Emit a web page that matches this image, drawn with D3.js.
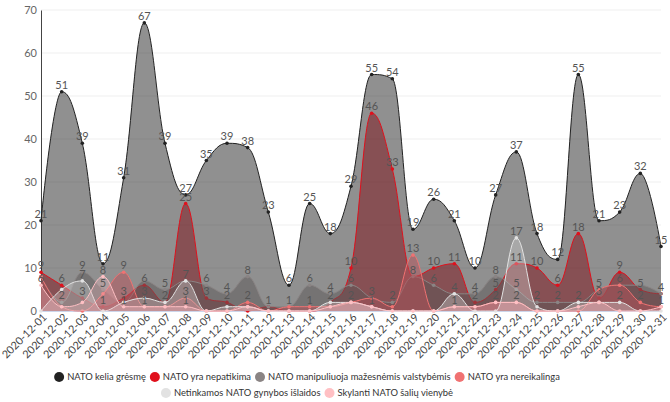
<!DOCTYPE html>
<html><head><meta charset="utf-8">
<script src="https://cdn.jsdelivr.net/npm/d3@7"></script>
<style>body{margin:0;background:#fff;} svg{display:block;font-family:Lato,"Open Sans",sans-serif;}</style>
</head><body><svg id="c" width="670" height="402"></svg>
<script>
const dates = ["2020-12-01","2020-12-02","2020-12-03","2020-12-04","2020-12-05","2020-12-06","2020-12-07","2020-12-08","2020-12-09","2020-12-10","2020-12-11","2020-12-12","2020-12-13","2020-12-14","2020-12-15","2020-12-16","2020-12-17","2020-12-18","2020-12-19","2020-12-20","2020-12-21","2020-12-22","2020-12-23","2020-12-24","2020-12-25","2020-12-26","2020-12-27","2020-12-28","2020-12-29","2020-12-30","2020-12-31"];
const yTicks = [0,10,20,30,40,50,60,70];
const seriesNames = ["NATO kelia grėsmę","NATO yra nepatikima","NATO manipuliuoja mažesnėmis valstybėmis","NATO yra nereikalinga","Netinkamos NATO gynybos išlaidos","Skylanti NATO šalių vienybė"];
const threat      = [21,51,39,11,31,67,39,27,35,39,38,23,6,25,18,29,55,54,19,26,21,10,27,37,18,12,55,21,23,32,15];
const unreliable  = [9,6,3,1,3,6,2,25,3,2,0,1,0,0,2,10,46,33,8,10,11,2,5,11,10,6,18,3,9,5,4];
const manipulates = [8,2,9,5,2,7,5,7,6,4,8,1,1,6,4,6,3,2,8,6,4,4,8,5,2,2,2,5,6,6,4];
const unnecessary = [8,1,0,4,9,1,1,3,0,0,2,0,1,1,1,2,3,1,13,0,1,1,2,2,0,0,0,5,6,2,1];
const spending    = [0,5,7,0,2,3,2,7,0,1,1,0,0,0,2,2,1,0,0,0,4,0,0,17,1,0,2,2,2,0,0];
const unity       = [6,1,2,8,1,1,1,1,0,0,1,0,0,0,1,2,1,0,0,0,1,1,2,2,0,0,1,2,0,0,1];
const seriesValues = [threat, unreliable, manipulates, unnecessary, spending, unity];

const lineColors = ["#222222","#e0101c","#8a8484","#f07272","#e2e2e2","#ffc0c4"];
const fillColors = ["#222222","#7e1018","#5a5656","#b85058","#d8d8d8","#ffc0c8"];
const fillOps    = [0.5,0.5,0.5,0.5,0.35,0.3];

// Highcharts-style spline curve
function HC(ctx){ this._context = ctx; }
HC.prototype = {
  areaStart(){ this._line = 0; },
  areaEnd(){ this._line = NaN; },
  lineStart(){ this._pts = []; },
  lineEnd(){
    const p = this._pts, n = p.length, c = this._context;
    if (n) {
      const L = [], R = [], s = 1.5, d = 2.5;
      for (let i = 0; i < n; i++) {
        const px = p[i][0], py = p[i][1];
        if (i > 0 && i < n - 1) {
          const lx = p[i-1][0], ly = p[i-1][1], nx = p[i+1][0], ny = p[i+1][1];
          const lcx = (s*px+lx)/d, rcx = (s*px+nx)/d;
          let lcy = (s*py+ly)/d, rcy = (s*py+ny)/d;
          let corr = 0;
          if (rcx !== lcx) corr = ((rcy - lcy) * (rcx - px)) / (rcx - lcx) + py - rcy;
          lcy += corr; rcy += corr;
          if (lcy > ly && lcy > py) { lcy = Math.max(ly, py); rcy = 2*py - lcy; }
          else if (lcy < ly && lcy < py) { lcy = Math.min(ly, py); rcy = 2*py - lcy; }
          if (rcy > ny && rcy > py) { rcy = Math.max(ny, py); lcy = 2*py - rcy; }
          else if (rcy < ny && rcy < py) { rcy = Math.min(ny, py); lcy = 2*py - rcy; }
          L[i] = [lcx, lcy]; R[i] = [rcx, rcy];
        } else { L[i] = [px, py]; R[i] = [px, py]; }
      }
      if (this._line) c.lineTo(p[0][0], p[0][1]); else c.moveTo(p[0][0], p[0][1]);
      for (let i = 1; i < n; i++) c.bezierCurveTo(R[i-1][0], R[i-1][1], L[i][0], L[i][1], p[i][0], p[i][1]);
    }
    if (this._line || (this._line !== 0 && n === 1)) c.closePath();
    this._line = 1 - this._line;
  },
  point(px, py){ this._pts.push([+px, +py]); }
};
const hcCurve = ctx => new HC(ctx);

const svg = d3.select("#c");
const plotLeft = 41, plotRight = 661, plotTop = 10, plotBottom = 311;
const x = d3.scalePoint().domain(dates).range([plotLeft, plotRight]);
const y = d3.scaleLinear().domain([0, 70]).range([plotBottom, plotTop]);

// gridlines
svg.append("g").selectAll("line").data(yTicks.slice(1)).join("line")
  .attr("x1", plotLeft).attr("x2", plotRight).attr("y1", d => y(d)).attr("y2", d => y(d))
  .attr("stroke", "#efefef").attr("stroke-width", 1);

// y axis
const yAxis = svg.append("g").attr("transform", `translate(${plotLeft},0)`)
  .call(d3.axisLeft(y).tickValues(yTicks).tickSize(0).tickPadding(4));
yAxis.select(".domain").attr("stroke", "#444");
yAxis.selectAll("text").attr("fill", "#666").attr("font-size", 11).attr("font-family", "Lato, sans-serif");

// x axis
const xAxis = svg.append("g").attr("transform", `translate(0,${plotBottom})`)
  .call(d3.axisBottom(x).tickSize(0).tickPadding(0));
xAxis.select(".domain").attr("stroke", "#ccd6eb");
xAxis.selectAll("text").attr("fill", "#444").attr("font-size", 10.8).attr("font-family", "Lato, sans-serif")
  .attr("text-anchor", "end").attr("dy", 0).attr("y", 0)
  .attr("transform", "translate(6,7) rotate(-45)");

const area = d3.area().x((d, i) => x(dates[i])).y0(y(0)).y1(d => y(d)).curve(hcCurve);
const line = d3.line().x((d, i) => x(dates[i])).y(d => y(d)).curve(hcCurve);

const gSeries = svg.append("g");
seriesValues.forEach((vals, s) => {
  const g = gSeries.append("g");
  g.append("path").attr("d", area(vals)).attr("fill", fillColors[s]).attr("fill-opacity", fillOps[s]);
  g.append("path").attr("d", line(vals)).attr("fill", "none").attr("stroke", lineColors[s]).attr("stroke-width", 1);
  g.selectAll("circle").data(vals).join("circle")
    .attr("cx", (d, i) => x(dates[i])).attr("cy", d => y(d)).attr("r", 1.8)
    .attr("fill", lineColors[s]);
});

// data labels with simple collision handling
const placed = [];
const gLabels = svg.append("g").attr("font-size", 11).attr("fill", "#555").attr("text-anchor", "middle");
seriesValues.forEach((vals, s) => {
  vals.forEach((v, i) => {
    if (v === 0) return;
    const cx = x(dates[i]), by = y(v) - 3;
    const w = String(v).length * 6, h = 9;
    const box = [cx - w/2, by - h, cx + w/2, by];
    const clash = placed.some(b => {
      const ox = Math.min(b[2], box[2]) - Math.max(b[0], box[0]);
      const oy = Math.min(b[3], box[3]) - Math.max(b[1], box[1]);
      return ox > 0 && oy > 0 && (ox * oy) > 0.5 * w * h;
    });
    if (clash) return;
    placed.push(box);
    gLabels.append("text").attr("x", cx).attr("y", by).text(v);
  });
});

// legend
const rows = [[0,1,2,3],[4,5]];
const rowY = [377, 393];
const legendCenter = 307;
const gLeg = svg.append("g").attr("font-size", 9.4).attr("fill", "#333");
rows.forEach((row, r) => {
  const items = row.map(k => {
    const g = gLeg.append("g");
    g.append("circle").attr("r", 5).attr("cx", 5).attr("cy", 0).attr("fill", lineColors[k]);
    const t = g.append("text").attr("x", 13).attr("y", 3.4).text(seriesNames[k]);
    return { g, w: 13 + t.node().getComputedTextLength() };
  });
  const gap = 4;
  const total = d3.sum(items, d => d.w) + gap * (items.length - 1);
  let cx = legendCenter - total / 2;
  items.forEach(it => { it.g.attr("transform", `translate(${cx},${rowY[r]})`); cx += it.w + gap; });
});
</script></body></html>
